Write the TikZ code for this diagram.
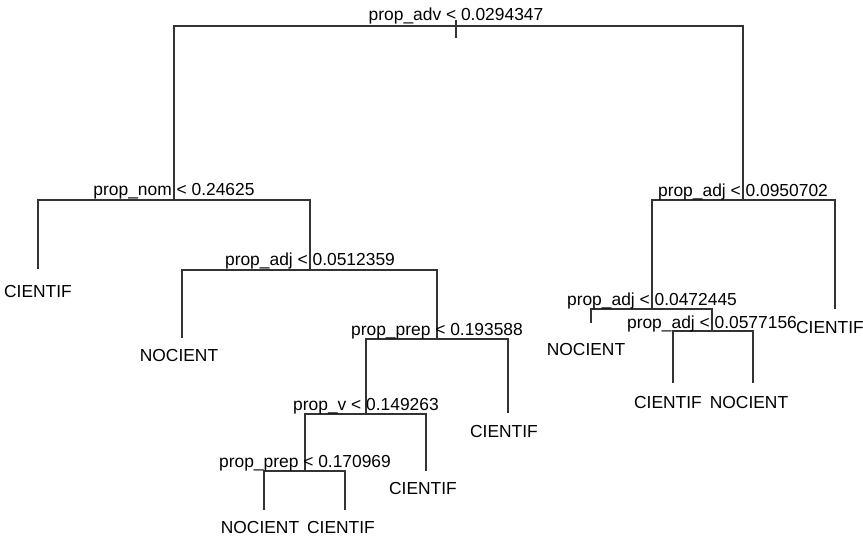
\documentclass[tikz,border=0pt]{standalone}
\usepackage{fontspec}
\setmainfont{Liberation Sans}
\begin{document}
\begin{tikzpicture}[x=1pt,y=-1pt,
  edge/.style={draw=black!80,line width=1.2pt},
  splitlbl/.style={anchor=base,inner sep=0pt,font=\fontsize{17.4}{20}\selectfont},
  leaflbl/.style={anchor=base,inner sep=0pt,font=\fontsize{17.4}{20}\selectfont}]
\useasboundingbox (0,0) rectangle (863,536);
% split coordinates
\coordinate (r) at (456,20);
\coordinate (rl) at (174,26);
\coordinate (rr) at (743,26);
\coordinate (rt) at (456,38);
\coordinate (n1) at (174,200);
\coordinate (n1l) at (38,200);
\coordinate (n1r) at (310,200);
\coordinate (n2) at (310,270);
\coordinate (n2l) at (182,270);
\coordinate (n2r) at (437,270);
\coordinate (n3) at (437,339);
\coordinate (n3l) at (366,339);
\coordinate (n3r) at (508,339);
\coordinate (n4) at (366,414);
\coordinate (n4l) at (305,414);
\coordinate (n4r) at (426,414);
\coordinate (n5) at (305,471);
\coordinate (n5l) at (264,471);
\coordinate (n5r) at (345,471);
\coordinate (m1) at (743,200);
\coordinate (m1l) at (652,200);
\coordinate (m1r) at (835,200);
\coordinate (m2) at (652,309);
\coordinate (m2l) at (591,309);
\coordinate (m2r) at (712,309);
\coordinate (m3) at (712,331);
\coordinate (m3l) at (673,331);
\coordinate (m3r) at (753,331);
% leaf ends
\coordinate (l1) at (38,269);
\coordinate (l2) at (182,338);
\coordinate (l3) at (508,413);
\coordinate (l4) at (426,471);
\coordinate (l5) at (264,510);
\coordinate (l6) at (345,510);
\coordinate (l7) at (591,323);
\coordinate (l8) at (835,309);
\coordinate (l9) at (673,383);
\coordinate (l10) at (753,383);
% edges
\draw[edge] (r) -- (rt);
\draw[edge] (n1) -- (rl) -- (rr) -- (m1);
\draw[edge] (l1) -- (n1l) -- (n1r) -- (n2);
\draw[edge] (l2) -- (n2l) -- (n2r) -- (n3);
\draw[edge] (n4) -- (n3l) -- (n3r) -- (l3);
\draw[edge] (n5) -- (n4l) -- (n4r) -- (l4);
\draw[edge] (l5) -- (n5l) -- (n5r) -- (l6);
\draw[edge] (m2) -- (m1l) -- (m1r) -- (l8);
\draw[edge] (l7) -- (m2l) -- (m2r) -- (m3);
\draw[edge] (l9) -- (m3l) -- (m3r) -- (l10);
% split labels
\node[splitlbl] (t0) at (456,20) {prop\_adv < 0.0294347};
\node[splitlbl] (t1) at (174,195) {prop\_nom < 0.24625};
\node[splitlbl] (t2) at (310,265) {prop\_adj < 0.0512359};
\node[splitlbl] (t3) at (437,335) {prop\_prep < 0.193588};
\node[splitlbl] (t4) at (366,410) {prop\_v < 0.149263};
\node[splitlbl] (t5) at (305,467) {prop\_prep < 0.170969};
\node[splitlbl] (t6) at (743,196) {prop\_adj < 0.0950702};
\node[splitlbl] (t7) at (652,305) {prop\_adj < 0.0472445};
\node[splitlbl] (t8) at (712,328) {prop\_adj < 0.0577156};
% leaf labels
\node[leaflbl] (f1) at (38,297) {CIENTIF};
\node[leaflbl] (f2) at (179,361) {NOCIENT};
\node[leaflbl] (f3) at (504,437) {CIENTIF};
\node[leaflbl] (f4) at (423,494) {CIENTIF};
\node[leaflbl] (f5) at (260,533) {NOCIENT};
\node[leaflbl] (f6) at (341,533) {CIENTIF};
\node[leaflbl] (f7) at (586,355) {NOCIENT};
\node[leaflbl] (f8) at (830,333) {CIENTIF};
\node[leaflbl] (f9) at (668,408) {CIENTIF};
\node[leaflbl] (f10) at (749,408) {NOCIENT};
\end{tikzpicture}
\end{document}
